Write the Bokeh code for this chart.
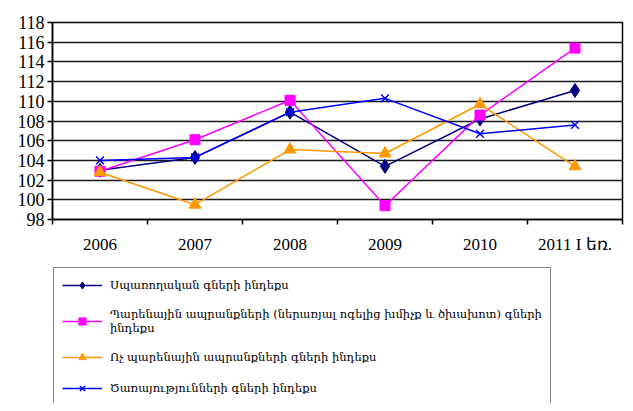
from bokeh.plotting import figure
from bokeh.models import FixedTicker, Legend, LegendItem, Range1d
from bokeh.layouts import column
from bokeh.embed import file_html
from bokeh.resources import INLINE

categories = ["2006", "2007", "2008", "2009", "2010", "2011 I եռ."]
cpi = [103.0, 104.3, 108.9, 103.4, 108.2, 111.1]
food = [102.9, 106.1, 110.1, 99.4, 108.6, 115.4]
nonfood = [102.8, 99.5, 105.1, 104.7, 109.7, 103.4]
services = [104.0, 104.3, 108.9, 110.3, 106.7, 107.6]
y_ticks = list(range(98, 119, 2))

labels = [
    "Սպառողական գների ինդեքս",
    "Պարենային ապրանքների (ներառյալ ոգելից խմիչք և ծխախոտ) գների\nինդեքս",
    "Ոչ պարենային ապրանքների գների ինդեքս",
    "Ծառայությունների գների ինդեքս",
]

xs = list(range(1, len(categories) + 1))

series = [
    (cpi, "#000080", "diamond", 14),
    (food, "#FF00FF", "square", 10),
    (nonfood, "#FF9900", "triangle", 12),
    (services, "#0000FF", "x", 11),
]


def add_series(fig, visible=True):
    rends = []
    for vals, color, marker, size in series:
        ln = fig.line(xs, vals, line_color=color, line_width=1.5, visible=visible)
        if marker == "x":
            sc = fig.scatter(xs, vals, marker=marker, size=size, line_color=color,
                             line_width=1.5, visible=visible)
        else:
            sc = fig.scatter(xs, vals, marker=marker, size=size, fill_color=color,
                             line_color=color, visible=visible)
        rends.append([ln, sc])
    return rends


# ---- main chart ----
p = figure(width=625, height=266, output_backend="svg", toolbar_location=None,
           x_range=Range1d(0.5, len(categories) + 0.5), y_range=Range1d(98, 118),
           min_border_left=52, min_border_right=3, min_border_top=22, min_border_bottom=47)
p.outline_line_color = "black"
p.outline_line_width = 1.5
p.background_fill_color = "white"
p.border_fill_color = "white"

p.xgrid.visible = False
p.ygrid.ticker = FixedTicker(ticks=y_ticks)
p.ygrid.grid_line_color = "#1a1a1a"
p.ygrid.grid_line_width = 1.5

p.yaxis.ticker = FixedTicker(ticks=y_ticks)
p.yaxis.axis_line_color = "black"
p.yaxis.axis_line_width = 1.5
p.yaxis.major_tick_in = 0
p.yaxis.major_tick_out = 5
p.yaxis.major_tick_line_width = 1.5
p.yaxis.minor_tick_line_color = None
p.yaxis.major_label_text_font = "Liberation Serif"
p.yaxis.major_label_text_font_size = "18px"
p.yaxis.major_label_text_color = "black"
p.yaxis.major_label_standoff = 3

p.xaxis.ticker = FixedTicker(ticks=xs, minor_ticks=[x + 0.5 for x in range(0, len(categories) + 1)])
p.xaxis.major_label_overrides = {x: c for x, c in zip(xs, categories)}
p.xaxis.axis_line_color = "black"
p.xaxis.axis_line_width = 1.5
p.xaxis.major_tick_in = 0
p.xaxis.major_tick_out = 0
p.xaxis.minor_tick_in = 0
p.xaxis.minor_tick_out = 5
p.xaxis.minor_tick_line_color = "black"
p.xaxis.minor_tick_line_width = 1.5
p.xaxis.major_label_text_font = "Liberation Serif"
p.xaxis.major_label_text_font_size = "17px"
p.xaxis.major_label_text_color = "black"
p.xaxis.major_label_standoff = 10

add_series(p)

# ---- legend panel ----
lp = figure(width=625, height=137, output_backend="svg", toolbar_location=None,
            min_border_left=50, min_border_right=0, min_border_top=0, min_border_bottom=0)
lp.axis.visible = False
lp.grid.visible = False
lp.outline_line_color = None
lp.background_fill_color = "white"
lp.border_fill_color = "white"

leg_rends = add_series(lp, visible=False)
items = [LegendItem(label=lab, renderers=r) for lab, r in zip(labels, leg_rends)]
legend = Legend(items=items, location="top_left", orientation="vertical", margin=1,
                border_line_color="black", border_line_width=1.5,
                padding=8, spacing=13, label_standoff=8,
                glyph_width=40, glyph_height=18, label_height=18,
                label_text_font="DejaVu Serif", label_text_font_size="11.5px",
                label_text_color="black", background_fill_alpha=1,
                click_policy="none")
lp.add_layout(legend, "center")

layout = column(p, lp, spacing=0)
open("out.html", "w").write(file_html(layout, INLINE))
